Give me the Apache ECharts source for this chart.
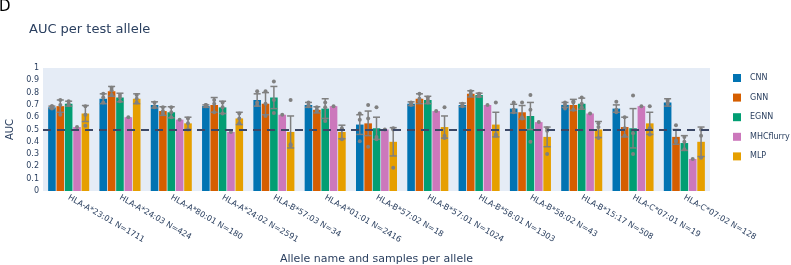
<!DOCTYPE html>
<html>
<head>
<meta charset="utf-8">
<script src="https://cdn.jsdelivr.net/npm/echarts@6/dist/echarts.min.js"></script>
<style>
  html, body { margin: 0; padding: 0; background: #fff; }
  #chart { width: 791px; height: 265px; }
</style>
</head>
<body>
<div id="chart"></div>
<script>
// alleles on the x axis
const categories = ['HLA-A*23:01 N=1711', 'HLA-A*24:03 N=424', 'HLA-A*80:01 N=180', 'HLA-A*24:02 N=2591',
  'HLA-B*57:03 N=34', 'HLA-A*01:01 N=2416', 'HLA-B*57:02 N=18', 'HLA-B*57:01 N=1024', 'HLA-B*58:01 N=1303',
  'HLA-B*58:02 N=43', 'HLA-B*15:17 N=508', 'HLA-C*07:01 N=19', 'HLA-C*07:02 N=128']
const models = ['CNN', 'GNN', 'EGNN', 'MHCflurry', 'MLP']
const yTicks = [0, 0.1, 0.2, 0.3, 0.4, 0.5, 0.6, 0.7, 0.8, 0.9, 1]

// mean AUC per model
const cnn = [0.68, 0.75, 0.70, 0.69, 0.74, 0.70, 0.54, 0.71, 0.70, 0.67, 0.70, 0.67, 0.72]
const gnn = [0.69, 0.81, 0.65, 0.70, 0.71, 0.66, 0.55, 0.75, 0.79, 0.64, 0.70, 0.52, 0.44]
const egnn = [0.71, 0.76, 0.64, 0.68, 0.76, 0.67, 0.51, 0.74, 0.78, 0.61, 0.71, 0.51, 0.39]
const mhcflurry = [0.52, 0.60, 0.58, 0.48, 0.62, 0.69, 0.50, 0.65, 0.70, 0.56, 0.63, 0.69, 0.26]
const mlp = [0.63, 0.75, 0.55, 0.59, 0.48, 0.48, 0.40, 0.52, 0.54, 0.44, 0.50, 0.55, 0.40]

// error bar half widths
const cnnErr = [0.01, 0.04, 0.025, 0.01, 0.05, 0.02, 0.08, 0.015, 0.015, 0.035, 0.02, 0.03, 0.03]
const gnnErr = [0.05, 0.04, 0.035, 0.06, 0.09, 0.025, 0.10, 0.04, 0.025, 0.055, 0.045, 0.08, 0.06]
const egnnErr = [0.02, 0.035, 0.045, 0.05, 0.09, 0.08, 0.09, 0.03, 0.015, 0.11, 0.045, 0.16, 0.06]
const mhcflurryErr = [0, 0, 0, 0, 0, 0, 0, 0, 0, 0, 0, 0, 0]
const mlpErr = [0.065, 0.04, 0.05, 0.05, 0.13, 0.055, 0.115, 0.09, 0.1, 0.08, 0.065, 0.09, 0.12]

// single runs shown as dots
const cnnDots = [[0.67, 0.69, 0.69], [0.72, 0.76, 0.79], [0.68, 0.69, 0.72], [0.69, 0.70, 0.70], [0.70, 0.72, 0.81],
  [0.69, 0.70, 0.72], [0.405, 0.58, 0.63], [0.70, 0.71, 0.72], [0.69, 0.70, 0.71], [0.64, 0.66, 0.72],
  [0.67, 0.70, 0.72], [0.64, 0.66, 0.725], [0.71, 0.72, 0.74]]
const gnnDots = [[0.62, 0.70, 0.74], [0.78, 0.82, 0.84], [0.63, 0.65, 0.68], [0.64, 0.71, 0.74], [0.61, 0.71, 0.81],
  [0.65, 0.66, 0.68], [0.36, 0.59, 0.70], [0.73, 0.75, 0.79], [0.78, 0.79, 0.81], [0.59, 0.60, 0.72],
  [0.66, 0.72, 0.73], [0.45, 0.51, 0.60], [0.40, 0.41, 0.535]]
const egnnDots = [[0.70, 0.71, 0.73], [0.73, 0.76, 0.78], [0.60, 0.64, 0.68], [0.63, 0.68, 0.72], [0.635, 0.74, 0.89],
  [0.57, 0.68, 0.72], [0.42, 0.44, 0.68], [0.72, 0.74, 0.76], [0.77, 0.78, 0.79], [0.40, 0.66, 0.78],
  [0.68, 0.71, 0.76], [0.30, 0.47, 0.776], [0.34, 0.40, 0.44]]
const mhcflurryDots = [[0.52], [0.60], [0.58], [0.48], [0.62], [0.69], [0.50], [0.65], [0.70], [0.56], [0.63], [0.69], [0.26]]
const mlpDots = [[0.53, 0.62, 0.69], [0.72, 0.75, 0.78], [0.50, 0.55, 0.59], [0.55, 0.59, 0.63], [0.37, 0.38, 0.74],
  [0.42, 0.50, 0.51], [0.19, 0.50, 0.51], [0.43, 0.45, 0.68], [0.45, 0.46, 0.72], [0.30, 0.49, 0.51],
  [0.43, 0.52, 0.55], [0.46, 0.51, 0.69], [0.27, 0.45, 0.50]]

const baseline = 0.5

const means = [cnn, gnn, egnn, mhcflurry, mlp]
const errs = [cnnErr, gnnErr, egnnErr, mhcflurryErr, mlpErr]
const dots = [cnnDots, gnnDots, egnnDots, mhcflurryDots, mlpDots]
const colors = ['#0173b2', '#d55e00', '#029e73', '#cc78bc', '#e69f00']

const CAT_GAP = 0.2
const BAR_GAP = 0.1
const textColor = '#2a3f5f'
const font = 'DejaVu Sans'

// x offset of bar k inside its category group
function barOffset(api, k) {
  const W = api.size([1, 0])[0]
  const groupW = W * (1 - CAT_GAP)
  const b = groupW / (models.length + (models.length - 1) * BAR_GAP)
  return -groupW / 2 + k * b * (1 + BAR_GAP) + b / 2
}

const errData = []
const dotData = []
means.forEach((m, k) => {
  m.forEach((v, i) => {
    if (errs[k][i] > 0) errData.push([i, v - errs[k][i], v + errs[k][i], k])
    dots[k][i].forEach(d => dotData.push([i, d, k]))
  })
})

const chart = echarts.init(document.getElementById('chart'))

const barSeries = models.map((name, k) => ({
  name: name,
  type: 'bar',
  data: means[k],
  barGap: (BAR_GAP * 100) + '%',
  barCategoryGap: (CAT_GAP * 100) + '%',
  itemStyle: { color: colors[k] },
  z: 2,
  markLine: k === 0 ? {
    symbol: 'none',
    silent: true,
    label: { show: false },
    lineStyle: { color: '#3c4866', width: 2, type: [8, 6] },
    data: [{ yAxis: baseline }],
    z: 10
  } : undefined
}))

const option = {
  animation: false,
  textStyle: { fontFamily: font },
  title: {
    text: 'AUC per test allele',
    left: 29, top: 23,
    padding: 0,
    textStyle: { color: textColor, fontSize: 13, fontWeight: 'normal', fontFamily: font }
  },
  graphic: [{
    type: 'text', left: -1, top: 0,
    style: { text: 'D', fill: '#000', font: '15px DejaVu Sans' }
  }],
  legend: {
    orient: 'vertical',
    left: 733, top: 72,
    padding: 0,
    data: models,
    icon: 'rect',
    itemWidth: 8, itemHeight: 8,
    itemGap: 7.6,
    textStyle: { color: textColor, fontSize: 8, lineHeight: 12, padding: [0, 0, 0, 4], fontFamily: font }
  },
  grid: { left: 43, right: 81, top: 68, bottom: 74, containLabel: false, outerBoundsMode: 'none' },
  xAxis: {
    type: 'category',
    data: categories,
    name: 'Allele name and samples per allele',
    nameLocation: 'middle',
    nameGap: 63,
    nameTextStyle: { color: textColor, fontSize: 11 },
    axisLine: { show: false },
    axisTick: { show: false },
    axisLabel: { rotate: -30, interval: 0, color: textColor, fontSize: 8, margin: 6 },
    splitLine: { show: false }
  },
  yAxis: {
    type: 'value',
    min: 0, max: 1, interval: 0.1,
    name: 'AUC',
    nameLocation: 'middle',
    nameGap: 25,
    nameTextStyle: { color: textColor, fontSize: 10 },
    axisLine: { show: false },
    axisTick: { show: false },
    axisLabel: {
      color: textColor, fontSize: 8, margin: 4,
      formatter: v => yTicks.some(t => Math.abs(t - v) < 1e-6) ? String(Math.round(v * 10) / 10) : ''
    },
    splitLine: { lineStyle: { color: '#fff', width: 1 } },
    splitArea: { show: false }
  },
  series: [
    // plot background
    {
      type: 'custom',
      silent: true,
      z: 0,
      renderItem: (params, api) => ({
        type: 'rect',
        shape: { x: params.coordSys.x, y: params.coordSys.y, width: params.coordSys.width, height: params.coordSys.height },
        style: { fill: '#e5ecf6' }
      }),
      data: [0]
    },
    ...barSeries,
    {
      type: 'custom',
      silent: true,
      z: 5,
      data: errData,
      encode: { x: 0, y: [1, 2] },
      renderItem: (params, api) => {
        const k = api.value(3)
        const lo = api.coord([api.value(0), api.value(1)])
        const hi = api.coord([api.value(0), api.value(2)])
        const x = lo[0] + barOffset(api, k)
        const cap = 3.5
        const style = { stroke: '#7f7f7f', lineWidth: 1.5 }
        return {
          type: 'group',
          children: [
            { type: 'line', shape: { x1: x, y1: lo[1], x2: x, y2: hi[1] }, style },
            { type: 'line', shape: { x1: x - cap, y1: lo[1], x2: x + cap, y2: lo[1] }, style },
            { type: 'line', shape: { x1: x - cap, y1: hi[1], x2: x + cap, y2: hi[1] }, style }
          ]
        }
      }
    },
    {
      type: 'custom',
      silent: true,
      z: 6,
      data: dotData,
      encode: { x: 0, y: 1 },
      renderItem: (params, api) => {
        const p = api.coord([api.value(0), api.value(1)])
        return {
          type: 'circle',
          shape: { cx: p[0] + barOffset(api, api.value(2)), cy: p[1], r: 2 },
          style: { fill: '#808080' }
        }
      }
    }
  ]
}

chart.setOption(option)
</script>
</body>
</html>
